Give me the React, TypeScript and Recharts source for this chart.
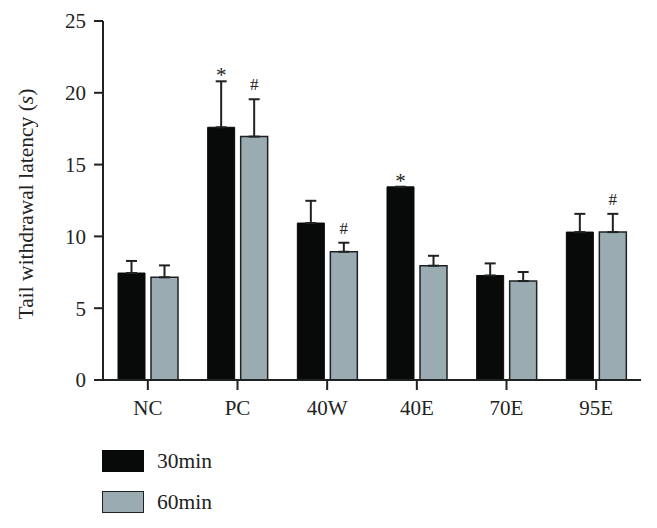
import React from 'react';
import { BarChart, Bar, XAxis, YAxis, ErrorBar, LabelList } from 'recharts';

const categories = ['NC', 'PC', '40W', '40E', '70E', '95E'];
const values30 = [7.45, 17.6, 10.93, 13.45, 7.28, 10.3];
const err30 = [0.84, 3.2, 1.55, 0, 0.84, 1.27];
const values60 = [7.15, 16.95, 8.93, 7.96, 6.89, 10.3];
const err60 = [0.83, 2.6, 0.63, 0.69, 0.63, 1.27];
const marks30 = ['', '*', '', '*', '', ''];
const marks60 = ['', '#', '#', '', '', '#'];
const yTicks = [0, 5, 10, 15, 20, 25];
const seriesNames = ['30min', '60min'];

const data = categories.map((c, i) => ({
  name: c,
  v30: values30[i],
  v60: values60[i],
  e30: [0, err30[i]],
  e60: [0, err60[i]],
  m30: marks30[i],
  m60: marks60[i],
}));

const FONT = '"Liberation Serif", "Times New Roman", serif';
const BLACK = '#080a09';
const GRAY = '#9aabb2';
const DARK = '#1e2222';

const makeMark = (vals: number[], errs: number[]) => (props: any) => {
  const { x, y, width, height, value, index } = props;
  if (!value) return null;
  const v = vals[index];
  const pxPer = v ? Number(height) / v : 0;
  const errTop = Number(y) - errs[index] * pxPer;
  const isStar = value === '*';
  return (
    <text
      x={Number(x) + Number(width) / 2}
      y={isStar ? errTop + 1 : errTop - 9}
      textAnchor="middle"
      fontFamily={FONT}
      fontSize={isStar ? 21 : 17}
      fill="#222"
    >
      {value}
    </text>
  );
};

const YLabel = () => (
  <text
    x={26}
    y={204}
    transform="rotate(-90 26 204)"
    textAnchor="middle"
    dominantBaseline="central"
    fontFamily={FONT}
    fontSize={21.5}
    fill="#222"
  >
    Tail withdrawal latency (<tspan fontStyle="italic">s</tspan>)
  </text>
);

export default function App() {
  return (
    <div style={{ position: 'absolute', left: 0, top: 0, width: 657, height: 528, background: '#fff' }}>
      <BarChart
        width={657}
        height={528}
        data={data}
        margin={{ top: 21, right: 16, left: 0, bottom: 0 }}
        barSize={27}
        barGap={6}
      >
        <XAxis
          dataKey="name"
          height={148}
          axisLine={{ stroke: DARK, strokeWidth: 2 }}
          tickLine={{ stroke: DARK, strokeWidth: 2 }}
          tickSize={10}
          tickMargin={10}
          tick={{ fontFamily: FONT, fontSize: 21, fill: '#222' }}
          interval={0}
        />
        <YAxis
          width={103}
          domain={[0, 25]}
          ticks={yTicks}
          interval={0}
          axisLine={{ stroke: DARK, strokeWidth: 2 }}
          tickLine={{ stroke: DARK, strokeWidth: 2 }}
          tickSize={9}
          tickMargin={8}
          tick={{ fontFamily: FONT, fontSize: 21, fill: '#222' }}
          label={<YLabel />}
        />
        <Bar dataKey="v30" name={seriesNames[0]} fill={BLACK} stroke={BLACK} strokeWidth={1} isAnimationActive={false}>
          <ErrorBar dataKey="e30" width={5.5} stroke={DARK} strokeWidth={2} direction="y" />
          <LabelList dataKey="m30" content={makeMark(values30, err30)} />
        </Bar>
        <Bar dataKey="v60" name={seriesNames[1]} fill={GRAY} stroke={DARK} strokeWidth={1.5} isAnimationActive={false}>
          <ErrorBar dataKey="e60" width={5.5} stroke={DARK} strokeWidth={2} direction="y" />
          <LabelList dataKey="m60" content={makeMark(values60, err60)} />
        </Bar>
      </BarChart>
      {seriesNames.map((s, i) => (
        <div key={s} style={{ position: 'absolute', left: 102, top: i === 0 ? 450 : 491, height: 22, display: 'flex', alignItems: 'center' }}>
          <div
            style={{
              width: 40,
              height: 20,
              background: i === 0 ? BLACK : GRAY,
              border: `1px solid ${i === 0 ? BLACK : DARK}`,
            }}
          />
          <span style={{ marginLeft: 13, fontFamily: FONT, fontSize: 21.5, color: '#222', lineHeight: '22px' }}>{s}</span>
        </div>
      ))}
    </div>
  );
}
